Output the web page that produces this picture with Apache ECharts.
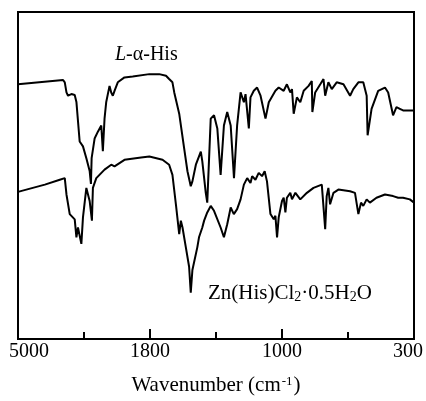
<!DOCTYPE html>
<html>
<head>
<meta charset="utf-8">
<script src="https://cdn.jsdelivr.net/npm/echarts@6/dist/echarts.min.js"></script>
<style>html,body{margin:0;padding:0;background:#fff;}#c{width:426px;height:401px;}</style>
</head>
<body>
<div id="c"></div>
<script>
// Tick labels / axis breakpoints (cm-1); the axis scale changes at each labelled tick
var tickWavenumbers = [5000, 1800, 1000, 300];
var tickLabels = ['5000', '1800', '1000', '300'];

// L-alpha-His spectrum (wavenumber, transmittance arbitrary %)
var hisWavenumber = [5000,3907,3866,3825,3787,3705,3625,3584,3505,3425,3343,3263,3232,3215,3143,3063,2981,2943,2902,2861,2781,2740,2701,2660,2581,2419,2219,1816,1744,1703,1684,1664,1653,1623,1593,1573,1553,1543,1522,1492,1483,1462,1453,1432,1412,1392,1372,1352,1332,1311,1291,1272,1251,1231,1221,1201,1191,1171,1151,1130,1100,1080,1040,1020,991,974,956,947,938,921,903,885,859,842,839,824,797,780,771,754,736,710,674,639,622,595,569,551,546,525,490,454,437,411,393,375,358,300];
var hisT = [77.9,79.2,78.5,75.4,74.4,74.9,74.6,72.5,60.4,58.9,55.3,51.4,47.4,55.3,61.3,63.4,65.3,57.4,67.4,72.5,77.4,75.4,74.4,75.9,78.5,80.0,80.3,81.0,81.0,80.5,79.5,78.5,75.4,68.9,58.3,51.3,46.7,48.2,53.3,57.3,54.3,44.7,41.7,67.4,68.4,64.4,50.2,65.3,69.4,65.3,49.2,65.3,75.4,72.4,74.9,64.4,73.9,75.9,76.9,74.4,67.4,72.4,75.9,76.9,75.9,77.9,75.4,76.4,68.9,73.9,72.4,75.9,77.4,78.9,69.4,75.4,77.9,79.5,74.4,78.5,76.4,78.5,77.9,74.4,76.4,78.5,78.5,74.4,62.3,70.4,75.9,76.9,75.4,68.4,70.9,70.4,69.9,69.9];

// Zn(His)Cl2.0.5H2O spectrum
var znWavenumber = [5000,4349,3987,3866,3825,3746,3625,3584,3546,3464,3425,3343,3263,3208,3184,3102,2902,2740,2660,2419,2016,1816,1724,1684,1664,1643,1623,1613,1603,1583,1563,1553,1543,1513,1503,1492,1483,1472,1453,1432,1412,1402,1372,1352,1332,1311,1292,1272,1251,1231,1211,1191,1181,1161,1141,1121,1105,1091,1070,1050,1040,1030,1020,1000,991,982,974,956,947,929,903,868,833,789,780,771,763,754,745,727,701,639,613,595,581,569,551,534,499,454,411,384,358,322,300];
var znT = [45.0,47.2,48.7,49.2,44.2,38.2,36.6,31.1,34.1,29.1,37.2,46.2,42.2,36.2,46.2,49.2,51.8,53.3,52.8,54.8,55.5,55.8,54.8,53.3,50.2,41.2,32.1,36.2,34.1,28.1,22.1,14.2,21.1,28.1,31.1,31.1,34.1,36.2,38.7,40.7,39.2,39.7,34.1,31.1,35.1,40.2,38.2,39.7,42.7,47.2,49.2,47.7,49.8,48.7,50.8,49.8,51.3,48.2,38.2,36.6,37.7,31.1,37.2,42.2,43.2,38.7,43.2,44.7,42.7,44.7,42.7,44.7,46.2,47.2,47.2,33.6,43.7,46.2,41.2,44.7,45.7,45.2,44.7,38.2,41.7,40.7,42.7,41.7,43.2,44.2,43.7,43.2,43.2,42.7,41.7];

// piecewise axis scale: each labelled interval spans two axis units
function toPos(wn) {
  for (var i = 0; i < tickWavenumbers.length - 1; i++) {
    var a = tickWavenumbers[i], b = tickWavenumbers[i + 1];
    if (wn >= b || i === tickWavenumbers.length - 2) {
      return 2 * i + 2 * (a - wn) / (a - b);
    }
  }
}
function pairs(xs, ys) {
  return xs.map(function (w, i) { return [toPos(w), ys[i]]; });
}

var chart = echarts.init(document.getElementById('c'), null, {renderer: 'canvas'});
var serif = '"Liberation Serif", "DejaVu Serif", serif';
var last = (tickLabels.length - 1) * 2;
chart.setOption({
  animation: false,
  backgroundColor: '#fff',
  grid: {left: 18, right: 10, top: 12, bottom: 58, show: true, borderColor: '#000', borderWidth: 2},
  xAxis: {
    type: 'value', min: 0, max: last, interval: 2,
    axisLine: {show: true, lineStyle: {color: '#000', width: 2}},
    axisTick: {show: true, inside: true, length: 10, lineStyle: {color: '#000', width: 2}},
    minorTick: {show: true, splitNumber: 2, length: 7, lineStyle: {color: '#000', width: 2}},
    splitLine: {show: false},
    axisLabel: {
      margin: 3, color: '#000', fontFamily: serif, fontSize: 20,
      formatter: function (v) {
        var idx = Math.round(v / 2);
        if (idx === 0) return '{f|' + tickLabels[idx] + '}';
        if (idx === tickLabels.length - 1) return '{l|' + tickLabels[idx] + '}';
        return tickLabels[idx];
      },
      rich: {
        f: {fontFamily: serif, fontSize: 20, color: '#000', padding: [0, 0, 0, 22]},
        l: {fontFamily: serif, fontSize: 20, color: '#000', padding: [0, 12, 0, 0]}
      }
    },
    name: '{n|Wavenumber (cm}{s|-1}{n|)}',
    nameLocation: 'middle', nameGap: 36,
    nameTextStyle: {
      rich: {
        n: {fontFamily: serif, fontSize: 21, color: '#000'},
        s: {fontFamily: serif, fontSize: 13, color: '#000', verticalAlign: 'top', padding: [0, 1, 0, 1]}
      }
    }
  },
  yAxis: {
    type: 'value', min: 0, max: 100,
    axisLine: {show: true, lineStyle: {color: '#000', width: 2}},
    axisTick: {show: false}, axisLabel: {show: false}, splitLine: {show: false}
  },
  graphic: [
    {type: 'text', left: 115, top: 45, style: {
      text: '{i|L}{n|-α-His}',
      rich: {
        i: {fontFamily: serif, fontSize: 20, fontStyle: 'italic', fill: '#000'},
        n: {fontFamily: serif, fontSize: 20, fill: '#000'}
      }
    }},
    {type: 'text', left: 208, top: 283, style: {
      text: '{n|Zn(His)Cl}{b|2}{n|·0.5H}{b|2}{n|O}',
      rich: {
        n: {fontFamily: serif, fontSize: 21, fill: '#000'},
        b: {fontFamily: serif, fontSize: 14, fill: '#000', verticalAlign: 'bottom'}
      }
    }}
  ],
  series: [
    {name: 'L-α-His', type: 'line', data: pairs(hisWavenumber, hisT), showSymbol: false, symbol: 'none',
     lineStyle: {color: '#000', width: 2}, z: 3},
    {name: 'Zn(His)Cl2·0.5H2O', type: 'line', data: pairs(znWavenumber, znT), showSymbol: false, symbol: 'none',
     lineStyle: {color: '#000', width: 2}, z: 3}
  ]
});
</script>
</body>
</html>
